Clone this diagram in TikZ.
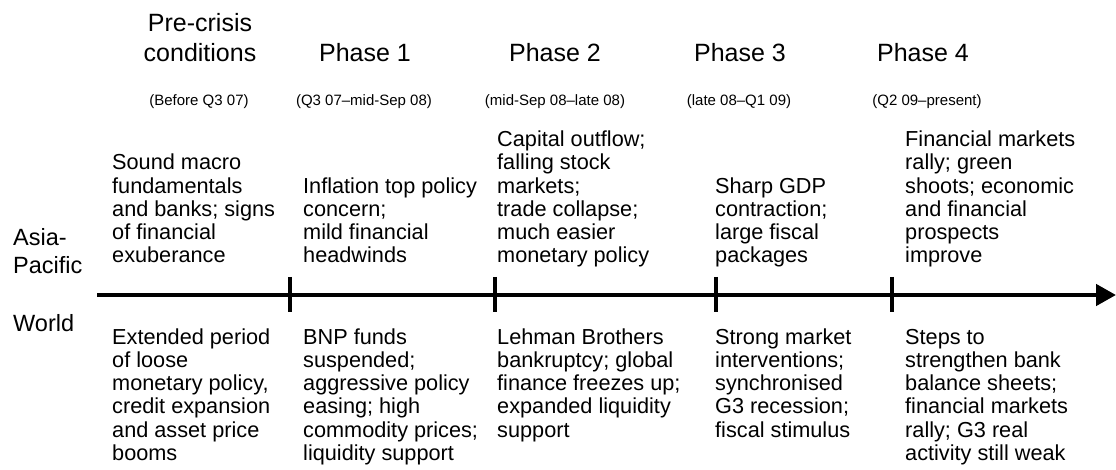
\documentclass[tikz,border=0pt]{standalone}
\usepackage{fontspec}
\setmainfont{Liberation Sans}
\usetikzlibrary{arrows.meta}
\begin{document}
\begin{tikzpicture}[x=1pt,y=-1pt,
  head/.style={font=\fontsize{25}{30}\selectfont, anchor=base, inner sep=0},
  period/.style={font=\fontsize{15}{18}\selectfont, anchor=base, inner sep=0},
  body/.style={font=\fontsize{21.7}{23.3}\selectfont, anchor=base west, inner sep=0, align=left},
  side/.style={font=\fontsize{23.5}{27}\selectfont, anchor=base west, inner sep=0},
  axisline/.style={line width=4.5pt, -{Triangle[length=20pt,width=21pt]}},
  tickmark/.style={line width=4.5pt}]
\useasboundingbox (0,0) rectangle (1116,470);

% phase headings
\node[head] (h0a) at (200,32) {Pre-crisis};
\node[head] (h0b) at (200,62) {conditions};
\node[head] (h1) at (365,62) {Phase 1};
\node[head] (h2) at (555,62) {Phase 2};
\node[head] (h3) at (740,62) {Phase 3};
\node[head] (h4) at (923,62) {Phase 4};

% periods
\node[period] (p0) at (199,106) {(Before Q3 07)};
\node[period] (p1) at (364,106) {(Q3 07--mid-Sep 08)};
\node[period] (p2) at (555,106) {(mid-Sep 08--late 08)};
\node[period] (p3) at (739,106) {(late 08--Q1 09)};
\node[period] (p4) at (927,106) {(Q2 09--present)};

% row labels
\node[side] (ap1) at (13,246) {Asia-};
\node[side] (ap2) at (13,273) {Pacific};
\node[side] (wl) at (13,331) {World};

% Asia-Pacific developments (anchored at the last line)
\node[body] (a0) at (112,263) {Sound macro\\fundamentals\\and banks; signs\\of financial\\exuberance};
\node[body] (a1) at (303,263) {Inflation top policy\\concern;\\mild financial\\headwinds};
\node[body] (a2) at (497,263) {Capital outflow;\\falling stock\\markets;\\trade collapse;\\much easier\\monetary policy};
\node[body] (a3) at (715,263) {Sharp GDP\\contraction;\\large fiscal\\packages};
\node[body] (a4) at (905,263) {Financial markets\\rally; green\\shoots; economic\\and financial\\prospects\\improve};

% world developments (anchored at the last line)
\node[body] (w0) at (112,460.5) {Extended period\\of loose\\monetary policy,\\credit expansion\\and asset price\\booms};
\node[body] (w1) at (303,460.5) {BNP funds\\suspended;\\aggressive policy\\easing; high\\commodity prices;\\liquidity support};
\node[body] (w2) at (497,437.2) {Lehman Brothers\\bankruptcy; global\\finance freezes up;\\expanded liquidity\\support};
\node[body] (w3) at (715,437.2) {Strong market\\interventions;\\synchronised\\G3 recession;\\fiscal stimulus};
\node[body] (w4) at (905,460.5) {Steps to\\strengthen bank\\balance sheets;\\financial markets\\rally; G3 real\\activity still weak};

% time axis with phase boundaries
\coordinate (axL) at (97,295);
\coordinate (axR) at (1116,295);
\draw[axisline] (axL) -- (axR);
\foreach \x/\n in {290/1,495/2,716/3,892/4}{
  \coordinate (t\n a) at (\x,277);
  \coordinate (t\n b) at (\x,312);
  \draw[tickmark] (t\n a) -- (t\n b);
}
\end{tikzpicture}
\end{document}
